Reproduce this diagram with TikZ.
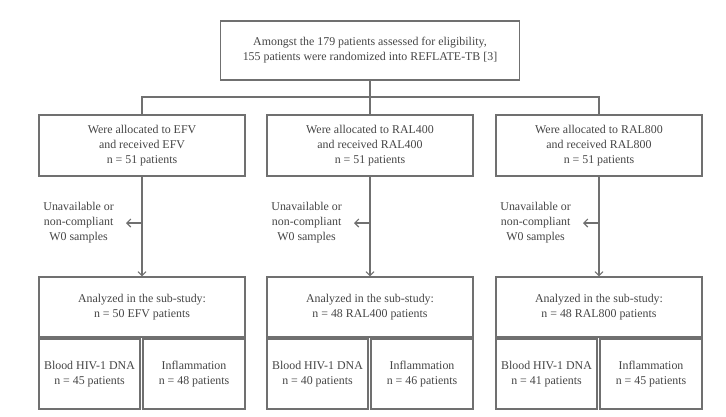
\documentclass[tikz,border=0pt]{standalone}
\usepackage{fontspec}
\setmainfont{Liberation Serif}
\usetikzlibrary{positioning,arrows.meta}

\definecolor{linegray}{HTML}{707070}
\definecolor{textgray}{HTML}{454545}

\begin{document}
\begin{tikzpicture}[x=1pt,y=-1pt,
		box/.style={draw=linegray, line width=1.1pt, text=textgray, align=center,
			inner sep=0pt, font=\fontsize{11.9}{15}\selectfont},
		excl/.style={text=textgray, align=center, inner sep=0pt,
			font=\fontsize{11.9}{15}\selectfont},
		link/.style={draw=linegray, line width=1.1pt},
		arr/.style={link, -{Straight Barb[length=4pt,width=8pt]}}]
		\useasboundingbox (0,0) rectangle (726,416);

		% randomization
		\node[box, minimum width=299pt, minimum height=59pt] (top) at (370,50.5)
			{Amongst the 179 patients assessed for eligibility,\\155 patients were randomized into REFLATE-TB [3]};
		\coordinate (split) at (370,97);

		% one column per arm
		\foreach \cx/\arm/\drug/\na/\nb/\nc/\nd in {142/efv/EFV/51/50/45/48, 370/rala/RAL400/51/48/40/46, 599/ralb/RAL800/51/48/41/45} {
			\node[box, minimum width=206pt, minimum height=61pt] (alloc-\arm) at (\cx,145.5)
				{Were allocated to \drug\\and received \drug\\n = \na{} patients};
			\node[box, minimum width=206pt, minimum height=60pt] (sub-\arm) at (\cx,307)
				{Analyzed in the sub-study:\\n = \nb{} \drug{} patients};
			\node[box, minimum width=101pt, minimum height=70pt] (dna-\arm) at (\cx-52.5,374)
				{Blood HIV-1 DNA\\n = \nc{} patients};
			\node[box, minimum width=102pt, minimum height=70pt] (infl-\arm) at (\cx+52,374)
				{Inflammation\\n = \nd{} patients};
			\coordinate (side-\arm) at (\cx,223);
			\node[excl, left=28pt of side-\arm] (excl-\arm)
				{Unavailable or\\non-compliant\\W0 samples};
			\draw[arr] (alloc-\arm) -- (sub-\arm);
			\draw[arr, shorten >=12pt] (side-\arm) -- (excl-\arm.east);
		}

		\draw[link] (top) -- (alloc-rala);
		\draw[link] (alloc-efv.north) |- (split) -| (alloc-ralb.north);
	\end{tikzpicture}
\end{document}
